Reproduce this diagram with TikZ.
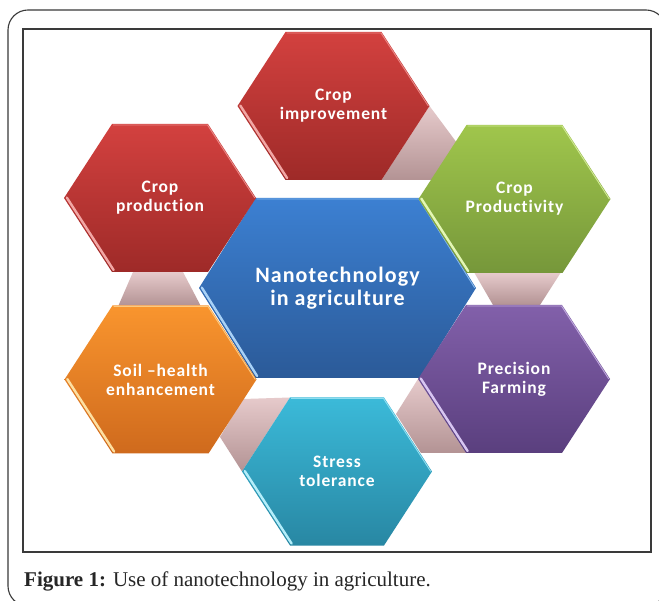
\documentclass[tikz,border=0pt]{standalone}
\usepackage{fontspec}
\setmainfont{Liberation Serif}
\newfontfamily\cellfont{Carlito}[LetterSpace=5, Ligatures=NoCommon]
\usetikzlibrary{calc}

% fill colours: T = top of gradient, B = bottom, L = highlight
\definecolor{redT}{HTML}{D3413F}\definecolor{redB}{HTML}{9E2A28}\definecolor{redL}{HTML}{F2A7A5}
\definecolor{grnT}{HTML}{A0C64C}\definecolor{grnB}{HTML}{76973A}\definecolor{grnL}{HTML}{E4F7B5}
\definecolor{bluT}{HTML}{3C80D2}\definecolor{bluB}{HTML}{2B5A98}\definecolor{bluL}{HTML}{A9D2F7}
\definecolor{orgT}{HTML}{F9952E}\definecolor{orgB}{HTML}{CF6A1D}\definecolor{orgL}{HTML}{FDE0A2}
\definecolor{purT}{HTML}{8260AA}\definecolor{purB}{HTML}{5A3F7E}\definecolor{purL}{HTML}{D8C6F2}
\definecolor{cynT}{HTML}{3BBAD9}\definecolor{cynB}{HTML}{2887A3}\definecolor{cynL}{HTML}{B4EEFA}
\definecolor{linkT}{HTML}{E6CACB}\definecolor{linkB}{HTML}{B39394}
\definecolor{frame}{HTML}{3A3A3A}

\tikzset{
  rim/.style={line width=0.9pt, line join=round},
  glint/.style={line width=2.4pt, line cap=round},
  link/.style={top color=linkT, bottom color=linkB},
  cell/.style={text=white, align=center, font=\cellfont\bfseries\fontsize{17.5}{19}\selectfont},
  hub/.style={text=white, align=center, font=\cellfont\bfseries\fontsize{22}{23.5}\selectfont},
}

% corner points of a flat-topped hexagon:
% name, centre x, centre y, half width, half top edge, half height
\newcommand{\hexpoints}[6]{%
  \coordinate (#1)    at (#2,#3);
  \coordinate (#1-l)  at ({#2-#4},#3);
  \coordinate (#1-tl) at ({#2-#5},{#3-#6});
  \coordinate (#1-tr) at ({#2+#5},{#3-#6});
  \coordinate (#1-r)  at ({#2+#4},#3);
  \coordinate (#1-br) at ({#2+#5},{#3+#6});
  \coordinate (#1-bl) at ({#2-#5},{#3+#6});
}
% shaded hexagon with a light rim and a bright lower-left bevel: name, colour
\newcommand{\hexcell}[2]{%
  \shade[top color=#2T, bottom color=#2B]
    (#1-l) -- (#1-tl) -- (#1-tr) -- (#1-r) -- (#1-br) -- (#1-bl) -- cycle;
  \draw[rim, #2L!70!#2T] ($(#1-tl)+(1,1)$) -- ($(#1-tr)+(-0.5,1)$) -- ($(#1-r)+(-1.2,0)$);
  \draw[glint, #2L] ($(#1-l)+(2.8,-0.4)$) -- ($(#1-bl)+(1.6,-2)$);
}

\begin{document}
\begin{tikzpicture}[x=1pt, y=-1pt]
  \useasboundingbox (0,0) rectangle (659,601);
  \fill[white] (0,0) rectangle (659,601);

  % outer rounded frame and inner figure frame
  \draw[frame, line width=1.1pt, rounded corners=20pt] (8,10) rectangle (666,606);
  \draw[frame, line width=1.1pt] (23,29) rectangle (651,552);

  % cell geometry
  \hexpoints{hub}{337.5}{288}{138.5}{82}{90}
  \hexpoints{prod}{160}{198}{96}{48}{74}
  \hexpoints{impr}{333.5}{106}{96}{48}{74}
  \hexpoints{prodv}{514.5}{199}{96}{48}{74}
  \hexpoints{soil}{160.5}{379.5}{96}{48}{74}
  \hexpoints{stress}{337}{471.5}{95}{47}{74}
  \hexpoints{prec}{514}{379}{96}{48}{74}

  % links between neighbouring cells
  \shade[link] ($(prod-bl)+(21,0)$) -- ($(prod-br)+(-25,0)$) -- ($(soil-tr)+(-8,0)$) -- ($(soil-tl)+(6,0)$) -- cycle;
  \shade[link] ($(prodv-bl)+(8,0)$) -- ($(prodv-br)+(-2,0)$) -- ($(prec-tr)+(-22,0)$) -- ($(prec-tl)+(27,0)$) -- cycle;
  \shade[link] (impr-r) -- (457,143) -- (434,180) -- (impr-br) -- cycle;
  \shade[link] (243,399) -- (stress-tl) -- (stress-l) -- (220,437) -- cycle;
  \shade[link] (prec-l) -- (prec-bl) -- (421,453) -- (396,414) -- cycle;

  % cells
  \hexcell{hub}{blu}
  \hexcell{prod}{red}
  \hexcell{impr}{red}
  \hexcell{prodv}{grn}
  \hexcell{soil}{org}
  \hexcell{stress}{cyn}
  \hexcell{prec}{pur}

  % labels
  \node[hub]  (hubtxt)    at (hub)    {Nanotechnology\\in agriculture};
  \node[cell] (prodtxt)   at (prod)   {Crop\\production};
  \node[cell] (imprtxt)   at (impr)   {Crop\\improvement};
  \node[cell] (prodvtxt)  at (prodv)  {Crop\\Productivity};
  \node[cell] (soiltxt)   at (soil)   {Soil –health\\enhancement};
  \node[cell] (stresstxt) at (stress) {Stress\\tolerance};
  \node[cell] (prectxt)   at (prec)   {Precision\\Farming};

  % caption
  \node[anchor=base west, inner sep=0pt, font=\fontsize{21}{24}\selectfont, text=black!85]
    (caption) at (24,586) {\textbf{Figure 1:} Use of nanotechnology in agriculture.};
\end{tikzpicture}
\end{document}
